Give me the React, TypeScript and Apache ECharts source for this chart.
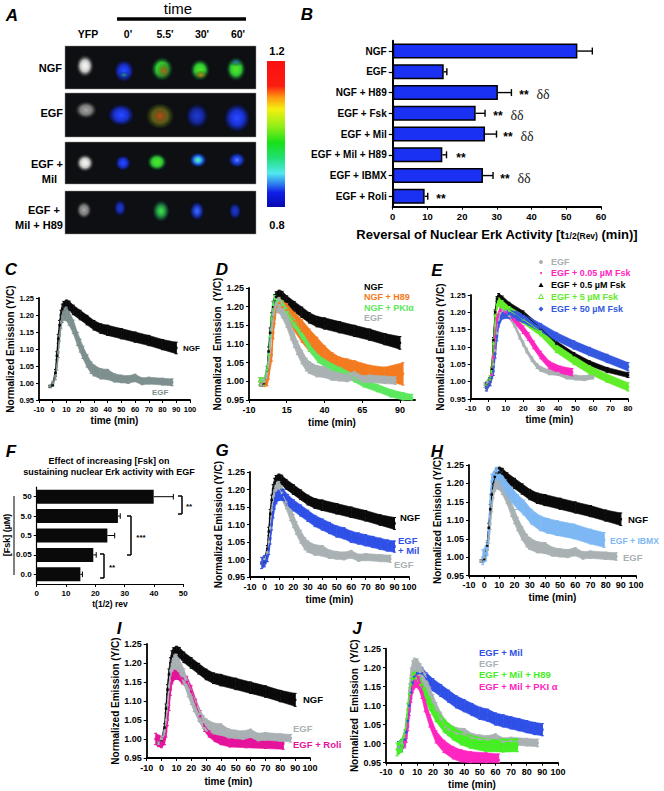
import React, { useEffect, useRef } from "react";
import * as echarts from "echarts";

const FONT = '"Liberation Sans", Arial, sans-serif';

// ---------- Panel B ----------
const bCats = ["NGF", "EGF", "NGF + H89", "EGF + Fsk", "EGF + Mil", "EGF + Mil + H89", "EGF + IBMX", "EGF + Roli"];
const bVals = [53.2, 14.7, 30.3, 23.9, 26.6, 14.3, 26.0, 9.2];
const bErrTop = [57.5, 15.6, 34.2, 26.6, 29.9, 15.5, 28.9, 10.1];

// ---------- Panel F ----------
const fCats = ["50", "5.0", "0.5", "0.05", "0.0"];
const fVals = [39.9, 27.7, 24.1, 19.3, 14.9];
const fErrTop = [46.6, 28.5, 26.6, 20.3, 15.6];

// ---------- Time courses ----------
const ngfT = [-2, 0, 2, 3, 4, 5, 6, 7, 8, 10, 12, 15, 20, 25, 30, 35, 40, 50, 60, 70, 80, 90];
const ngfV = [0.99, 0.995, 1.03, 1.08, 1.13, 1.17, 1.2, 1.218, 1.226, 1.23, 1.227, 1.215, 1.2, 1.185, 1.17, 1.16, 1.155, 1.145, 1.135, 1.125, 1.113, 1.103];
const ngfE = [0.003, 0.004, 0.01, 0.012, 0.013, 0.014, 0.014, 0.014, 0.014, 0.014, 0.014, 0.014, 0.014, 0.014, 0.014, 0.014, 0.015, 0.015, 0.015, 0.015, 0.015, 0.017];

const egfT = [-2, 0, 2, 3, 4, 5, 6, 7, 8, 10, 12, 15, 18, 20, 22, 25, 28, 30, 35, 40, 45, 50, 55, 60, 65, 70, 80, 87];
const egfV = [0.99, 1.0, 1.02, 1.05, 1.09, 1.14, 1.18, 1.198, 1.205, 1.203, 1.19, 1.165, 1.13, 1.11, 1.09, 1.065, 1.045, 1.037, 1.027, 1.025, 1.015, 1.012, 1.01, 1.015, 1.005, 1.007, 1.004, 1.002];
const egfE = [0.004, 0.005, 0.01, 0.012, 0.015, 0.017, 0.019, 0.02, 0.02, 0.02, 0.02, 0.02, 0.019, 0.019, 0.018, 0.018, 0.017, 0.016, 0.015, 0.015, 0.012, 0.011, 0.011, 0.011, 0.01, 0.01, 0.01, 0.01];

const h89T = [-3, 0, 2, 3, 5, 6, 7, 8, 10, 12, 15, 20, 25, 30, 35, 40, 45, 50, 55, 60, 70, 80, 92];
const h89V = [1.0, 0.998, 1.0, 1.02, 1.07, 1.13, 1.17, 1.2, 1.21, 1.2, 1.19, 1.16, 1.135, 1.11, 1.09, 1.07, 1.055, 1.045, 1.04, 1.035, 1.025, 1.02, 1.02];
const h89E = [0.01, 0.012, 0.012, 0.014, 0.016, 0.016, 0.016, 0.016, 0.016, 0.016, 0.018, 0.025, 0.03, 0.03, 0.028, 0.025, 0.022, 0.02, 0.02, 0.02, 0.018, 0.018, 0.03];

const pkiT = [-3, 0, 2, 3, 4, 5, 6, 7, 9, 12, 15, 20, 25, 30, 36, 45, 51, 60, 66, 75, 84, 92, 98];
const pkiV = [1.0, 1.0, 1.03, 1.07, 1.12, 1.17, 1.205, 1.22, 1.215, 1.205, 1.185, 1.155, 1.125, 1.09, 1.06, 1.037, 1.026, 1.008, 0.995, 0.982, 0.968, 0.96, 0.955];

const e05T = [-1, 1, 2, 3, 4, 5, 7, 10, 15, 20, 23, 26, 30, 35, 41, 48];
const e05V = [0.985, 1.0, 1.02, 1.07, 1.13, 1.18, 1.205, 1.2, 1.18, 1.15, 1.13, 1.106, 1.077, 1.048, 1.034, 1.027];

const e5T = [-1, 1, 2, 3, 4, 5, 6, 8, 12, 20, 30, 39, 49, 58, 68, 80];
const e5aV = [0.988, 1.005, 1.035, 1.12, 1.2, 1.238, 1.247, 1.24, 1.222, 1.197, 1.154, 1.11, 1.077, 1.053, 1.034, 1.019];
const e5bV = [0.988, 1.005, 1.03, 1.11, 1.19, 1.222, 1.23, 1.222, 1.205, 1.18, 1.144, 1.096, 1.062, 1.034, 1.01, 0.985];

const e50T = [-1, 1, 3, 4, 5, 6, 8, 12, 16, 20, 30, 39, 49, 58, 68, 80];
const e50V = [0.985, 1.0, 1.03, 1.08, 1.13, 1.17, 1.193, 1.195, 1.19, 1.183, 1.156, 1.13, 1.106, 1.087, 1.067, 1.043];

const milT = [-2, 0, 2, 3, 4, 5, 6, 7, 8, 10, 13, 16, 20, 25, 30, 35, 40, 45, 50, 55, 60, 65, 70, 75, 80, 85, 90];
const milV = [0.99, 0.995, 1.01, 1.03, 1.06, 1.1, 1.135, 1.16, 1.175, 1.185, 1.185, 1.17, 1.155, 1.14, 1.125, 1.11, 1.1, 1.09, 1.08, 1.075, 1.065, 1.06, 1.055, 1.05, 1.045, 1.04, 1.037];

const ibmxT = [-1, 1, 2, 3, 4, 5, 8, 11, 14, 18, 22, 26, 31, 37, 42, 48, 59, 70, 79];
const ibmxV = [1.0, 1.01, 1.025, 1.07, 1.15, 1.205, 1.224, 1.21, 1.19, 1.17, 1.15, 1.135, 1.11, 1.092, 1.085, 1.079, 1.07, 1.056, 1.047];

const roliT = [-4, -2, 0, 2, 3, 4, 5, 6, 7, 9, 11, 14, 17, 20, 23, 26, 29, 32, 36, 40, 46, 57, 70, 82];
const roliV = [1.0, 0.995, 0.992, 1.0, 1.02, 1.05, 1.09, 1.13, 1.16, 1.172, 1.172, 1.16, 1.15, 1.125, 1.09, 1.06, 1.035, 1.02, 1.008, 1.0, 0.994, 0.992, 0.99, 0.988];

const jGreenT = [-3, 0, 2, 3, 4, 5, 6, 7, 9, 12, 15, 18, 22, 27, 33, 38, 44, 54, 65, 74];
const jGreenV = [0.985, 0.995, 1.02, 1.05, 1.09, 1.13, 1.155, 1.17, 1.172, 1.155, 1.13, 1.105, 1.075, 1.048, 1.027, 1.014, 1.005, 0.996, 0.995, 0.996];

const jPinkT = [2, 3, 4, 5, 6, 7, 9, 11, 13, 15, 18, 22, 27, 33, 38, 44, 54, 62];
const jPinkV = [1.005, 1.02, 1.05, 1.09, 1.125, 1.15, 1.165, 1.16, 1.135, 1.1, 1.06, 1.018, 0.993, 0.976, 0.968, 0.963, 0.96, 0.957];

const X_TICKS = [-10, 15, 40, 65, 90];
const bStars = ["", "", "**", "**", "**", "**", "**", "**"];
const bDeltas = ["", "", "δδ", "δδ", "δδ", "", "δδ", ""];

const BLACK = "#0a0a0a";
const GRAY_C = "#7e8f8f";
const GRAY = "#a9b1b3";
const ORANGE = "#f47a20";
const LIME = "#5ce85e";
const PINK = "#e5139b";
const HOT = "#ff25c0";
const BRIGHT = "#46ee24";
const ROYAL = "#2f50e6";
const SKY = "#7db8f4";

type Band = { name: string; t: number[]; v: number[]; e: number | number[]; color: string };
type Panel = {
  l: number; t: number; r: number; b: number; fs: number; xMax: number; xTicks?: number[];
  yGap: number; xGap: number; yName: string; bands: Band[];
};

const NGF = (c = BLACK): Band => ({ name: "NGF", t: ngfT, v: ngfV, e: ngfE, color: c });
const EGF = (c = GRAY): Band => ({ name: "EGF", t: egfT, v: egfV, e: egfE, color: c });

const YN = "Normalized Emission (Y/C)";
const panels: Panel[] = [
  { l: 39, t: 298, r: 190, b: 400, fs: 7.5, xMax: 100, yGap: 22, xGap: 15, yName: YN, bands: [NGF(), EGF(GRAY_C)] },
  { l: 249, t: 288, r: 415, b: 400, fs: 9, xMax: 100, xTicks: X_TICKS, yGap: 23, xGap: 17, yName: "Normalized  Emission  (Y/C)",
    bands: [NGF(), { name: "NGF + H89", t: h89T, v: h89V, e: h89E, color: ORANGE }, { name: "NGF + PKIα", t: pkiT, v: pkiV, e: 0.01, color: LIME }, EGF()] },
  { l: 470.7, t: 295, r: 628, b: 399, fs: 8, xMax: 80, yGap: 25.7, xGap: 15, yName: YN,
    bands: [
      { name: "EGF", t: egfT.slice(0, 24), v: egfV.slice(0, 24), e: 0.007, color: GRAY },
      { name: "EGF + 0.05 µM Fsk", t: e05T, v: e05V, e: 0.011, color: HOT },
      { name: "EGF + 0.5 µM Fsk", t: e5T, v: e5aV, e: 0.007, color: BLACK },
      { name: "EGF + 5 µM Fsk", t: e5T, v: e5bV, e: 0.012, color: "#62ec2a" },
      { name: "EGF + 50 µM Fsk", t: e50T, v: e50V, e: 0.012, color: "#3558e0" },
    ] },
  { l: 250, t: 472, r: 409, b: 577, fs: 9, xMax: 100, yGap: 23, xGap: 17, yName: YN,
    bands: [NGF(), EGF(), { name: "EGF + Mil", t: milT, v: milV, e: 0.016, color: ROYAL }] },
  { l: 469, t: 465, r: 636, b: 575.7, fs: 9, xMax: 100, yGap: 22, xGap: 17, yName: YN,
    bands: [NGF(), EGF(), { name: "EGF + IBMX", t: ibmxT, v: ibmxV, e: 0.02, color: SKY }] },
  { l: 146.7, t: 644, r: 310, b: 758, fs: 9, xMax: 100, yGap: 21.7, xGap: 18, yName: YN,
    bands: [NGF(), { name: "EGF + Roli", t: roliT, v: roliV, e: 0.015, color: PINK }, EGF()] },
  { l: 386, t: 648.7, r: 558, b: 762.7, fs: 9, xMax: 100, yGap: 23, xGap: 17, yName: "Normalized  Emission  (Y/C)",
    bands: [
      { name: "EGF + Mil", t: milT, v: milV, e: 0.016, color: ROYAL },
      EGF(),
      { name: "EGF + Mil + H89", t: jGreenT, v: jGreenV, e: 0.017, color: BRIGHT },
      { name: "EGF + Mil + PKI α", t: jPinkT, v: jPinkV, e: 0.016, color: HOT },
    ] },
];

const axisBase = (fs: number, w = 1.8) => ({
  axisLine: { show: true, onZero: false, lineStyle: { color: "#000", width: w } },
  axisTick: { show: true, length: 3, lineStyle: { color: "#000", width: 1 } },
  splitLine: { show: false },
  axisLabel: { color: "#000", fontFamily: FONT, fontWeight: "bold", fontSize: fs, margin: 5 },
  nameTextStyle: { color: "#000", fontFamily: FONT, fontWeight: "bold", fontSize: 10 },
});

const txt = (s: string, x: number, y: number, fill: string, size: number, align = "left", extra: any = {}) => ({
  type: "text", x, y, silent: true, z: 20,
  style: { text: s, fill, font: `bold ${size}px ${FONT}`, textAlign: align, textVerticalAlign: "middle", ...extra },
});
const seg = (x1: number, y1: number, x2: number, y2: number, w = 1.5) => ({
  type: "line", silent: true, z: 20, shape: { x1, y1, x2, y2 }, style: { stroke: "#000", lineWidth: w },
});

const blob = (cx: number, cy: number, rx: number, ry: number, stops: string[]) => {
  const n = stops.length;
  const colorStops = stops.map((color, i) => ({ offset: i / (n - 1), color }));
  return {
    type: "ellipse", silent: true, z: 12, shape: { cx, cy, rx: rx * 1.2, ry: ry * 1.2 },
    style: { fill: new echarts.graphic.RadialGradient(0.5, 0.5, 0.5, colorStops) },
  };
};

const T = "rgba(0,0,0,0)";
const BLUE = ["#2a4bff", "#1f3df0", "#1830c8", "rgba(15,30,130,0.6)", T];
const DIM = ["#1f3ad8", "#1a30b8", "#142590", "rgba(10,20,80,0.5)", T];
const GREEN = ["#5be01c", "#40e030", "#30c030", "rgba(20,90,40,0.6)", T];
const WHITE = ["#f4f4f4", "#e8e8e8", "#bdbdbd", "rgba(90,90,90,0.6)", T];
const GREY = ["#a8a8a8", "#909090", "#787878", "rgba(60,60,60,0.6)", T];

const cellBlobs = [
  blob(85, 66, 8, 10, WHITE), blob(124, 71, 9, 10, BLUE), blob(124, 75, 5, 3, ["rgba(40,200,120,.7)", T]),
  blob(162, 69, 10, 11, GREEN), blob(164, 71, 6, 7, ["rgba(230,60,30,.8)", T]),
  blob(200, 70, 9, 10, GREEN), blob(201, 75, 6, 4, ["rgba(250,120,20,.8)", T]),
  blob(236, 69, 9, 11, GREEN), blob(236, 62, 6, 4, ["rgba(40,110,230,.8)", T]),
  blob(86, 110, 10, 8, GREY), blob(121, 115, 12, 10, BLUE),
  blob(160, 116, 13, 12, ["#b06a1c", "#8a6a1c", "#5c5a18", "rgba(50,60,20,0.6)", T]), blob(160, 116, 6, 6, ["rgba(210,60,20,.6)", T]),
  blob(197, 116, 11, 12, DIM), blob(237, 118, 12, 13, BLUE),
  blob(85, 163, 8, 8, WHITE), blob(123, 163, 7, 7, BLUE), blob(157, 162, 9, 8, GREEN),
  blob(198, 160, 8, 7, ["#60e8c0", "#40c8d8", "#2060e0", "rgba(15,40,130,0.6)", T]),
  blob(237, 160, 8, 7, ["#6090ff", "#2a50f0", "#1a35c0", "rgba(15,30,110,0.6)", T]),
  blob(84, 210, 7, 8, GREY), blob(120, 208, 6, 8, DIM),
  blob(161, 211, 8, 10, ["#45e040", "#30c048", "#208040", "rgba(20,70,50,0.6)", T]),
  blob(197, 211, 7, 9, ["#3a70f0", "#2a50e0", "#1a30a8", "rgba(10,25,90,0.6)", T]),
  blob(235, 211, 6, 8, DIM),
];

const panelA = [
  ...[[65, 46, 191, 43], [65, 93, 191, 44], [65, 142, 191, 42], [65, 191, 191, 43]].map(([x, y, width, height]) => ({
    type: "rect", silent: true, z: 11, shape: { x, y, width, height }, style: { fill: "#0d0f12", stroke: "#8d8d8d", lineWidth: 0.5 },
  })),
  ...cellBlobs,
  { type: "rect", silent: true, z: 11, shape: { x: 267, y: 61, width: 18, height: 146 },
    style: { fill: new echarts.graphic.LinearGradient(0, 0, 0, 1, [
      { offset: 0, color: "#fb1010" }, { offset: 0.17, color: "#fb1c10" }, { offset: 0.25, color: "#ff9a10" },
      { offset: 0.33, color: "#f4f010" }, { offset: 0.45, color: "#90ee18" }, { offset: 0.56, color: "#18e018" },
      { offset: 0.66, color: "#20e070" }, { offset: 0.77, color: "#50e8f0" }, { offset: 0.84, color: "#3080f0" },
      { offset: 0.9, color: "#1020e8" }, { offset: 1, color: "#0808b0" },
    ]) } },
  txt("time", 178, 8, "#000", 15, "center", { font: `15px ${FONT}` }),
  seg(117, 19, 246, 19, 3.5),
  ...["YFP", "0'", "5.5'", "30'", "60'"].map((s, i) => txt(s, [88, 128, 165, 202, 238][i], 34, "#000", 10.5, "center")),
  txt("NGF", 62, 68, "#000", 11, "right"),
  txt("EGF", 63, 113, "#000", 11, "right"),
  txt("EGF +", 63, 164, "#000", 11, "right"),
  txt("Mil", 57, 179, "#000", 11, "right"),
  txt("EGF +", 60, 210, "#000", 11, "right"),
  txt("Mil + H89", 63, 225, "#000", 11, "right"),
  txt("1.2", 277, 51, "#000", 11, "center"),
  txt("0.8", 277, 225, "#000", 11, "center"),
];

const letters = [["A", 12, 15], ["B", 307, 14], ["C", 11, 269], ["D", 222, 269], ["E", 437, 270], ["F", 11, 451], ["G", 222, 450], ["H", 437, 451], ["I", 119, 628], ["J", 357, 628]]
  .map(([s, x, y]) => txt(s as string, x as number, y as number, "#000", 17, "center", { font: `italic bold 17px ${FONT}` }));

const bRowY = [51, 72.3, 93.8, 114, 135, 156, 177, 197];
const bStarX = [0, 0, 524, 498, 508, 461, 505, 441];
const bDeltaX = [0, 0, 543, 517, 527, 0, 524, 0];
const bMarks = bCats.flatMap((_, i) => [
  ...(bStars[i] ? [txt(bStars[i], bStarX[i], bRowY[i] + 1.5, "#000", 12, "center")] : []),
  ...(bDeltas[i] ? [txt(bDeltas[i], bDeltaX[i], bRowY[i] + 1, "#222", 14, "center", { font: '14px "Liberation Serif"' })] : []),
]);

const fMarks = [
  txt("Effect of increasing [Fsk] on", 109, 461, "#000", 9, "center"),
  txt("sustaining nuclear Erk activity with EGF", 109, 472, "#000", 9, "center"),
  {
    ...txt("[Fsk] (µM)", 7, 535, "#000", 9, "center"), rotation: Math.PI / 2,
  },
  seg(14, 496, 14, 575, 1),
  seg(178, 496, 182, 496), seg(182, 496, 182, 514), seg(178, 514, 182, 514),
  txt("**", 189, 506, "#000", 8, "center"),
  seg(127, 516, 131, 516), seg(131, 516, 131, 555), seg(127, 555, 131, 555),
  txt("***", 141, 537, "#000", 8, "center"),
  seg(100, 554, 104, 554), seg(104, 554, 104, 578), seg(100, 578, 104, 578),
  txt("**", 112, 567, "#000", 8, "center"),
];

const lab = (s: string, x: number, y: number, c: string, size = 9) => txt(s, x, y, c, size);
const panelLabels = [
  lab("NGF", 183, 348, "#000", 8), lab("EGF", 152, 392, GRAY_C, 8),
  lab("NGF", 364, 287, "#000"), lab("NGF + H89", 364, 297, ORANGE), lab("NGF + PKIα", 364, 308, LIME), lab("EGF", 364, 318, GRAY),
  lab("EGF", 551, 262, GRAY), lab("EGF + 0.05 µM Fsk", 551, 273, HOT), lab("EGF + 0.5 µM Fsk", 551, 285, "#000"),
  lab("EGF + 5 µM Fsk", 551, 297, "#62ec2a"), lab("EGF + 50 µM Fsk", 551, 309, "#3558e0"),
  { type: "circle", silent: true, z: 20, shape: { cx: 541, cy: 262, r: 2 }, style: { fill: GRAY } },
  { type: "circle", silent: true, z: 20, shape: { cx: 541, cy: 273, r: 1 }, style: { fill: HOT } },
  { type: "polygon", silent: true, z: 20, shape: { points: [[541, 282.5], [538.5, 287], [543.5, 287]] }, style: { fill: "#000" } },
  { type: "polygon", silent: true, z: 20, shape: { points: [[541, 294], [538.5, 298.5], [543.5, 298.5]] }, style: { fill: "none", stroke: "#62ec2a", lineWidth: 1 } },
  { type: "polygon", silent: true, z: 20, shape: { points: [[541, 306.5], [543.5, 309], [541, 311.5], [538.5, 309]] }, style: { fill: "#3558e0" } },
  lab("NGF", 400, 517, "#000", 9.5), lab("EGF", 398, 540, ROYAL, 9.5), lab("+ Mil", 398, 550, ROYAL, 9.5), lab("EGF", 394, 564, GRAY, 9.5),
  lab("NGF", 628, 519, "#000", 9.5), lab("EGF + IBMX", 610, 541, SKY, 8.6), lab("EGF", 623, 557, GRAY, 9.5),
  lab("NGF", 303, 699, "#000", 9.5), lab("EGF", 293, 728, GRAY, 9.5), lab("EGF + Roli", 293, 744, PINK, 9.5),
  lab("EGF + Mil", 479, 652, ROYAL, 9.5), lab("EGF", 479, 663, GRAY, 9.5), lab("EGF + Mil + H89", 479, 674, BRIGHT, 9.5), lab("EGF + Mil + PKI α", 479, 686, HOT, 9.5),
];

const bandSeries = (i: number, b: Band) => {
  const errAt = (k: number) => (Array.isArray(b.e) ? b.e[k] : b.e);
  const rows = b.t.map((x, k) => [x, b.v[k], errAt(k)]);
  const clampLo = (v: number) => Math.max(v, 0.95);
  return {
    type: "custom", name: b.name + " SEM", xAxisIndex: i, yAxisIndex: i, silent: true, data: rows, encode: { x: 0, y: 1 },
    renderItem: (params: any, api: any) => {
      const k = params.dataIndex;
      const [x, v, e] = rows[k];
      const hi = api.coord([x, v + e]);
      const lo = api.coord([x, clampLo(v - e)]);
      const children: any[] = [
        { type: "line", shape: { x1: hi[0] - 1.5, y1: hi[1], x2: hi[0] + 1.5, y2: hi[1] }, style: { stroke: b.color, lineWidth: 1 } },
        { type: "line", shape: { x1: lo[0] - 1.5, y1: lo[1], x2: lo[0] + 1.5, y2: lo[1] }, style: { stroke: b.color, lineWidth: 1 } },
      ];
      if (k < rows.length - 1) {
        const [x2, v2, e2] = rows[k + 1];
        const hi2 = api.coord([x2, v2 + e2]);
        const lo2 = api.coord([x2, clampLo(v2 - e2)]);
        children.unshift({ type: "polygon", shape: { points: [hi, hi2, lo2, lo] }, style: { fill: b.color, stroke: b.color, lineWidth: 0.6 } });
      } else {
        children.unshift({ type: "line", shape: { x1: hi[0], y1: hi[1], x2: lo[0], y2: lo[1] }, style: { stroke: b.color, lineWidth: 1 } });
      }
      return { type: "group", children };
    },
  };
};

const lineSeries = (i: number, b: Band) => ({
  type: "line", name: b.name, xAxisIndex: i, yAxisIndex: i, data: b.t.map((x, k) => [x, b.v[k]]),
  showSymbol: true, symbol: "rect", symbolSize: 2.5, lineStyle: { color: b.color, width: 1 }, itemStyle: { color: b.color }, silent: true,
});

const errorSeries = (i: number, vals: number[], tops: number[], cap: number, w: number) => ({
  type: "custom", name: "SEM", xAxisIndex: i, yAxisIndex: i, silent: true,
  data: vals.map((v, k) => [v, k, tops[k]]), encode: { x: 0, y: 1 },
  renderItem: (_: any, api: any) => {
    const a = api.coord([api.value(0), api.value(1)]);
    const b = api.coord([api.value(2), api.value(1)]);
    return {
      type: "group",
      children: [
        { type: "line", shape: { x1: a[0], y1: a[1], x2: b[0], y2: b[1] }, style: { stroke: "#000", lineWidth: w } },
        { type: "line", shape: { x1: b[0], y1: b[1] - cap, x2: b[0], y2: b[1] + cap }, style: { stroke: "#000", lineWidth: w } },
      ],
    };
  },
});

export default function App() {
  const ref = useRef<HTMLDivElement>(null);
  useEffect(() => {
    const chart = echarts.init(ref.current!, null, { renderer: "svg" });
    const grids: any[] = panels.map((p) => ({ left: p.l, top: p.t, width: p.r - p.l, height: p.b - p.t }));
    const xAxes: any[] = panels.map((p, i) => {
      const base = axisBase(p.fs);
      const tk = p.xTicks;
      return {
        type: "value", gridIndex: i, min: -10, max: p.xMax, interval: tk ? 25 : 10, ...base,
        axisTick: tk ? { ...base.axisTick, customValues: tk } : base.axisTick,
        axisLabel: tk ? { ...base.axisLabel, customValues: tk } : base.axisLabel,
        name: "time (min)", nameLocation: "middle", nameGap: p.xGap,
      };
    });
    const yAxes: any[] = panels.map((p, i) => {
      const base = axisBase(p.fs);
      return {
        type: "value", gridIndex: i, min: 0.95, max: 1.25, interval: 0.05, ...base,
        axisLabel: { ...base.axisLabel, formatter: (v: number) => v.toFixed(2) },
        name: p.yName, nameLocation: "middle", nameGap: p.yGap,
      };
    });
    const series: any[] = panels.flatMap((p, i) => p.bands.flatMap((b) => [bandSeries(i, b), lineSeries(i, b)]));

    // Panel B
    const iB = panels.length;
    grids.push({ left: 392.7, top: 40.7, width: 208.3, height: 166 });
    xAxes.push({
      type: "value", gridIndex: iB, min: 0, max: 60, interval: 10, ...axisBase(9.5, 2),
      name: "{a|Reversal of Nuclear Erk Activity [t}{s|1/2(Rev)}{a| (min)]}", nameLocation: "middle", nameGap: 21,
      nameTextStyle: { rich: {
        a: { fontFamily: FONT, fontWeight: "bold", fontSize: 13, color: "#000" },
        s: { fontFamily: FONT, fontWeight: "bold", fontSize: 8.5, color: "#000", verticalAlign: "bottom", padding: [4, 0, 0, 0] },
      } },
    });
    yAxes.push({ type: "category", gridIndex: iB, data: bCats, inverse: true, ...axisBase(10, 2), axisLabel: { color: "#000", fontFamily: FONT, fontWeight: "bold", fontSize: 10, margin: 6 }, axisTick: { show: true, alignWithLabel: true, length: 4, lineStyle: { color: "#000", width: 1.2 } } });
    series.push({
      type: "bar", name: "t1/2(Rev)", xAxisIndex: iB, yAxisIndex: iB, data: bVals, barWidth: 15, silent: true,
      itemStyle: { color: "#1a30f2", borderColor: "#000", borderWidth: 1.5 },
    });
    series.push(errorSeries(iB, bVals, bErrTop, 3.5, 1.4));

    // Panel F
    const iF = iB + 1;
    grids.push({ left: 36.7, top: 487, width: 146.6, height: 97 });
    xAxes.push({
      type: "value", gridIndex: iF, min: 0, max: 50, interval: 10, ...axisBase(8, 1.2),
      name: "t(1/2) rev", nameLocation: "middle", nameGap: 15,
      nameTextStyle: { color: "#000", fontFamily: FONT, fontWeight: "bold", fontSize: 8.5 },
    });
    yAxes.push({ type: "category", gridIndex: iF, data: fCats, inverse: true, ...axisBase(8, 1.2), axisTick: { show: true, alignWithLabel: true, length: 3, lineStyle: { color: "#000", width: 1 } } });
    series.push({ type: "bar", name: "t(1/2) rev", xAxisIndex: iF, yAxisIndex: iF, data: fVals, barWidth: 14, silent: true, itemStyle: { color: "#0a0a0a" } });
    series.push(errorSeries(iF, fVals, fErrTop, 2.8, 1));

    chart.setOption({
      animation: false,
      backgroundColor: "#fff",
      textStyle: { fontFamily: FONT },
      grid: grids,
      xAxis: xAxes,
      yAxis: yAxes,
      series,
      graphic: { elements: [...panelA, ...letters, ...bMarks, ...fMarks, ...panelLabels] },
    });
    return () => chart.dispose();
  }, []);
  return <div ref={ref} style={{ position: "absolute", left: 0, top: 0, width: 664, height: 791 }} />;
}
